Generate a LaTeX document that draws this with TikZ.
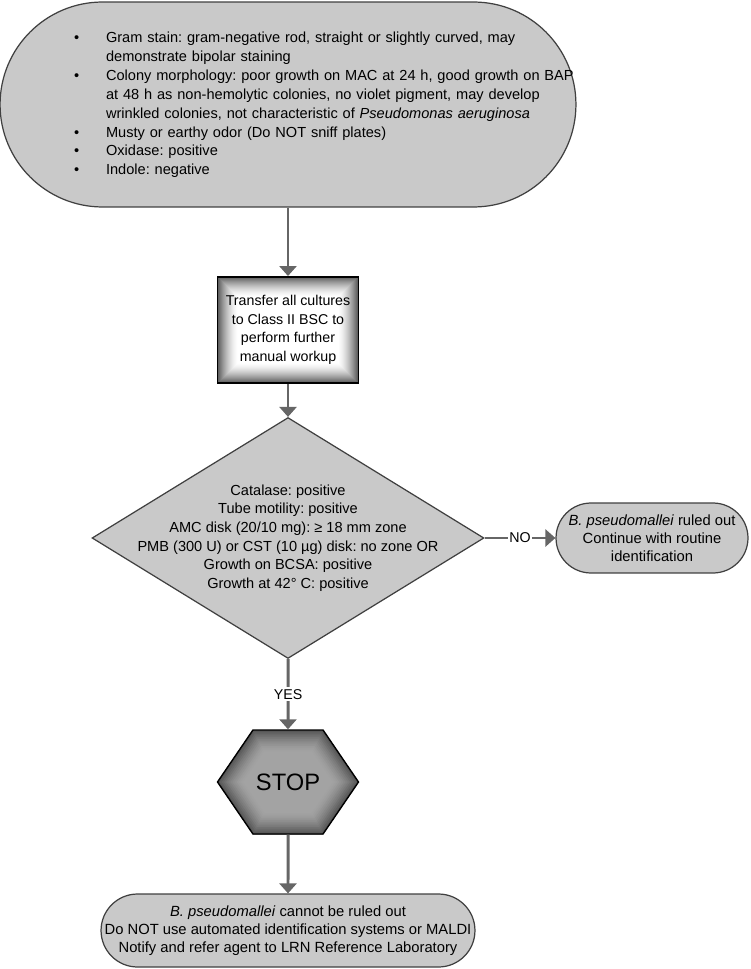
\documentclass[tikz,border=0pt]{standalone}
\usepackage{fontspec}
\setmainfont{Liberation Sans}
\usetikzlibrary{positioning, arrows.meta, shapes.geometric, shapes.symbols}
\frenchspacing

\newcommand{\bul}{\makebox[0.64cm][l]{\textbullet}}

\begin{document}
\begin{tikzpicture}[x=0.02cm, y=-0.02cm,
  pill/.style={draw=black!75, fill=black!21, line width=0.7pt, rounded corners=#1,
               align=center, inner sep=0pt, font=\fontsize{8.4}{10.2}\selectfont},
  crittext/.style={align=left, text width=10cm, inner sep=0pt,
                   font=\fontsize{8.3}{10.75}\selectfont},
  manual/.style={draw=black, line width=1.1pt, fill=white, minimum width=2.82cm,
                 minimum height=2.12cm, align=center, inner sep=0pt,
                 font=\fontsize{8.1}{10.6}\selectfont,
                 path picture={
                   \foreach \k [evaluate=\k as \tone using 68*(\k/21)^1.6] in {1,...,20}
                     \draw[line width={(21-\k)*0.04cm}, black!\tone]
                       (path picture bounding box.south west) rectangle
                       (path picture bounding box.north east);}},
  decision/.style={diamond, draw=black!75, fill=black!21, line width=0.7pt,
                   minimum width=7.84cm, minimum height=4.82cm, inner sep=0pt},
  dectext/.style={align=center, inner sep=0pt, font=\fontsize{8.3}{10.6}\selectfont},
  halt/.style={signal, signal to=east and west, signal pointer angle=111.4,
               draw=black, line width=0.8pt, fill=black!36,
               minimum width=2.82cm, minimum height=2.08cm,
               inner sep=0pt, font=\fontsize{13.5}{16}\selectfont,
               path picture={
                 \foreach \k [evaluate=\k as \tone using 36+30*(\k/12)^1.5] in {1,...,12}
                   \draw[line width={(13-\k)*0.07cm}, black!\tone, line join=miter]
                     (path picture bounding box.west)
                     -- ([xshift=0.71cm]path picture bounding box.north west)
                     -- ([xshift=-0.71cm]path picture bounding box.north east)
                     -- (path picture bounding box.east)
                     -- ([xshift=-0.71cm]path picture bounding box.south east)
                     -- ([xshift=0.71cm]path picture bounding box.south west) -- cycle;}},
  arr/.style={-{Triangle[length=0.2cm, width=0.34cm]}, line width=1.7pt, draw=black!60},
  lbl/.style={fill=white, inner sep=1pt, font=\fontsize{8.1}{10}\selectfont},
]
\useasboundingbox (0,0) rectangle (750,969);

% Presumptive criteria
\node[pill=2.05cm, minimum width=11.52cm, minimum height=4.1cm] (crit) at (288,104.5) {};
\node[crittext] (critlist) at (324,105) {%
  \bul Gram stain: gram-negative rod, straight or slightly curved, may\\
  \hspace*{0.64cm}demonstrate bipolar staining\\
  \bul Colony morphology: poor growth on MAC at 24 h, good growth on BAP\\
  \hspace*{0.64cm}at 48 h as non-hemolytic colonies, no violet pigment, may develop\\
  \hspace*{0.64cm}wrinkled colonies, not characteristic of \textit{Pseudomonas aeruginosa}\\
  \bul Musty or earthy odor (Do NOT sniff plates)\\
  \bul Oxidase: positive\\
  \bul Indole: negative};

% Move to the cabinet
\node[manual] (bsc) at (288,330) {Transfer all cultures\\to Class II BSC to\\perform further\\manual workup};

% Test panel
\node[decision, label={[dectext]center:{Catalase: positive\\Tube motility: positive\\AMC disk (20/10 mg): ≥ 18 mm zone\\PMB (300 U) or CST (10 µg) disk: no zone OR\\Growth on BCSA: positive\\Growth at 42° C: positive}}] (tests) at (288,538) {};

% Outcomes
\node[pill=0.7cm, minimum width=3.84cm, minimum height=1.4cm] (ruled) at (652,538)
  {\textit{B. pseudomallei} ruled out\\Continue with routine\\identification};
\node[halt] (stop) at (288,782) {STOP};
\node[pill=0.73cm, minimum width=7.48cm, minimum height=1.46cm] (refer) at (288,930.5)
  {\textit{B. pseudomallei} cannot be ruled out\\Do NOT use automated identification systems or MALDI\\Notify and refer agent to LRN Reference Laboratory};

% Flow
\draw[arr] (crit) -- (bsc);
\draw[arr] (bsc) -- (tests);
\draw[arr] (tests) -- node[lbl] {NO} (ruled);
\draw[arr] (tests) -- node[lbl] {YES} (stop);
\draw[arr] (stop) -- (refer);

\end{tikzpicture}
\end{document}
